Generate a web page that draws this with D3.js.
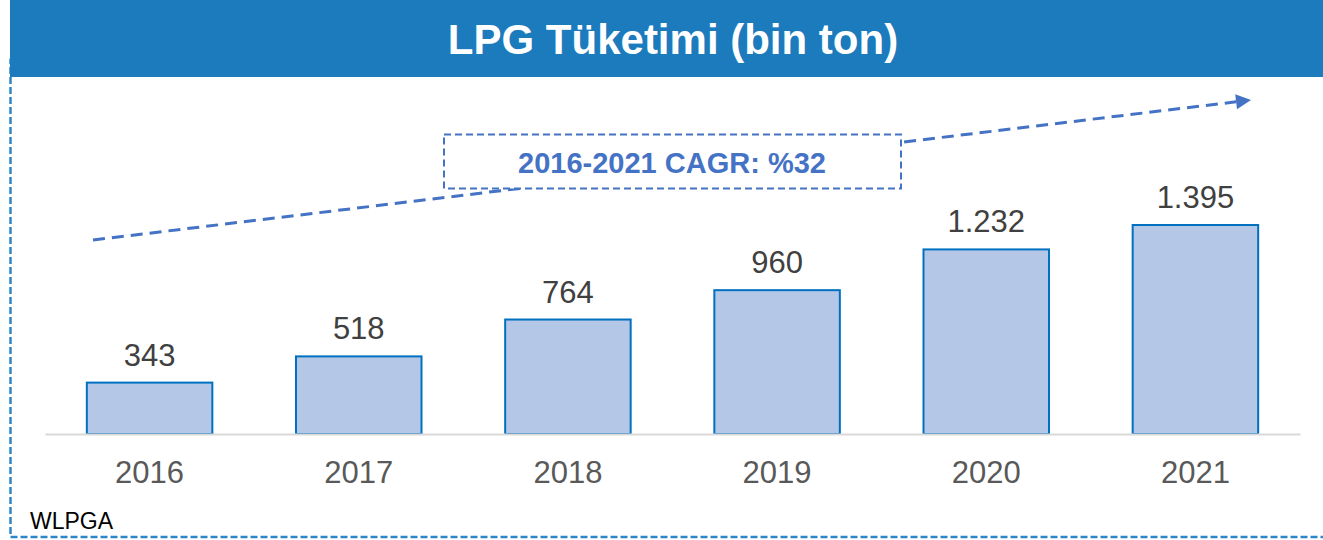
<!DOCTYPE html>
<html>
<head>
<meta charset="utf-8">
<script src="https://cdn.jsdelivr.net/npm/d3@7"></script>
<style>
  html, body { margin: 0; padding: 0; background: #ffffff; }
  svg { display: block; font-family: Arial, "Liberation Sans", Helvetica, sans-serif; }
</style>
</head>
<body>
<svg id="chart" width="1323" height="540"></svg>
<script>
const years = ["2016", "2017", "2018", "2019", "2020", "2021"];
const consumption = [343, 518, 764, 960, 1232, 1395];
const valueLabels = ["343", "518", "764", "960", "1.232", "1.395"];
const title = "LPG Tüketimi (bin ton)";
const cagrLabel = "2016-2021 CAGR: %32";
const source = "WLPGA";

const svg = d3.select("#chart");

// outer dashed frame
svg.append("rect")
  .attr("x", 10.5).attr("y", 60).attr("width", 1340).attr("height", 477)
  .attr("fill", "none").attr("stroke", "#2E86C8")
  .attr("stroke-width", 2.5).attr("stroke-dasharray", "7,3");

// header
svg.append("rect")
  .attr("x", 10).attr("y", 0).attr("width", 1313).attr("height", 77)
  .attr("fill", "#1B7BBD");
svg.append("text")
  .attr("x", 673).attr("y", 54)
  .attr("text-anchor", "middle")
  .attr("fill", "#ffffff").attr("font-weight", "bold").attr("font-size", 42)
  .text(title);

// scales
const x = d3.scaleBand().domain(years).range([45, 1300])
  .paddingInner(0.4).paddingOuter(0.2);
const y = d3.scaleLinear().domain([0, 1395]).range([434, 225]);

// CAGR arrow
const x1 = 93, y1 = 240, x2 = 1251, y2 = 100;
const ang = Math.atan2(y2 - y1, x2 - x1);
const headLen = 15, headHalf = 7.5;
const bx = x2 - headLen * Math.cos(ang), by = y2 - headLen * Math.sin(ang);
svg.append("line")
  .attr("x1", x1).attr("y1", y1).attr("x2", bx).attr("y2", by)
  .attr("stroke", "#4472C4").attr("stroke-width", 3)
  .attr("stroke-dasharray", "12,7");
svg.append("path")
  .attr("d", d3.line()([
    [x2, y2],
    [bx + headHalf * Math.sin(ang), by - headHalf * Math.cos(ang)],
    [bx - headHalf * Math.sin(ang), by + headHalf * Math.cos(ang)]
  ]) + "Z")
  .attr("fill", "#4472C4");

// CAGR box
svg.append("rect")
  .attr("x", 444).attr("y", 134.5).attr("width", 457).attr("height", 54)
  .attr("fill", "#ffffff").attr("stroke", "#4472C4")
  .attr("stroke-width", 2).attr("stroke-dasharray", "7,4");
svg.append("text")
  .attr("x", 672).attr("y", 173)
  .attr("text-anchor", "middle")
  .attr("fill", "#4472C4").attr("font-weight", "bold").attr("font-size", 29)
  .text(cagrLabel);

// bars
svg.append("g").selectAll("rect")
  .data(consumption)
  .join("rect")
  .attr("x", (d, i) => x(years[i]))
  .attr("y", d => y(d))
  .attr("width", x.bandwidth())
  .attr("height", d => y(0) - y(d))
  .attr("fill", "#B4C7E7")
  .attr("stroke", "#0070C0")
  .attr("stroke-width", 2);

// baseline axis
const axis = d3.axisBottom(x).tickSize(0).tickPadding(0);
const gx = svg.append("g").attr("transform", `translate(0,${y(0)})`).call(axis);
gx.select(".domain").attr("stroke", "#D9D9D9").attr("stroke-width", 2);
gx.selectAll(".tick text")
  .attr("dy", null)
  .attr("y", 49)
  .attr("fill", "#595959")
  .attr("font-size", 31)
  .attr("font-family", "Arial, 'Liberation Sans', sans-serif");

// value labels
svg.append("g").selectAll("text")
  .data(consumption)
  .join("text")
  .attr("x", (d, i) => x(years[i]) + x.bandwidth() / 2)
  .attr("y", d => y(d) - 17)
  .attr("text-anchor", "middle")
  .attr("fill", "#404040")
  .attr("font-size", 31)
  .text((d, i) => valueLabels[i]);

// source
svg.append("text")
  .attr("x", 30).attr("y", 529)
  .attr("fill", "#000000").attr("font-size", 23)
  .text(source);
</script>
</body>
</html>
